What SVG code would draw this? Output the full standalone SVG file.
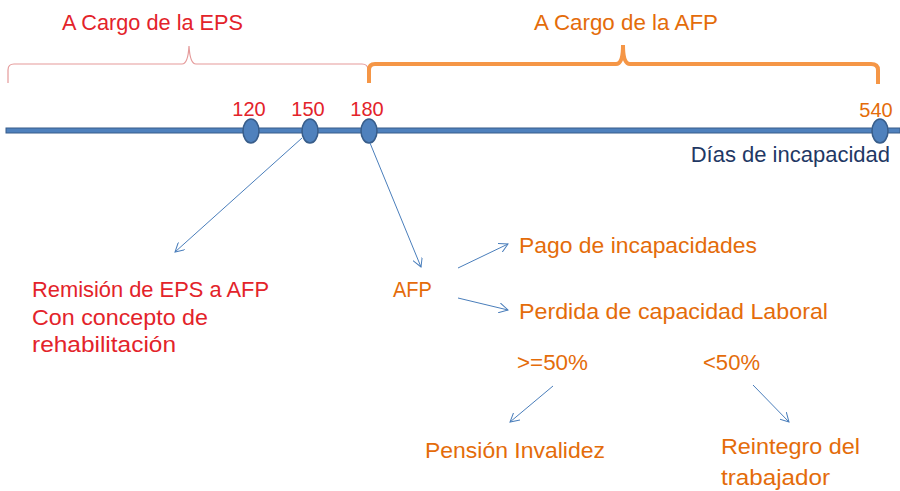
<svg xmlns="http://www.w3.org/2000/svg" width="900" height="491" viewBox="0 0 900 491">
<style>
text{font-family:"Liberation Sans",Arial,sans-serif;font-size:22px}
.red{fill:#e3232a}
.org{fill:#e46c0a}
.navy{fill:#1f3864}
.num{font-size:20px}
.conn{stroke:#4a7ebb;stroke-width:1;fill:none}
.dot{fill:#4f81bd;stroke:#385d8a;stroke-width:1.5}
</style>
<defs>
<marker id="arr" viewBox="0 0 10 10" refX="9" refY="5" markerWidth="10" markerHeight="10" markerUnits="userSpaceOnUse" orient="auto">
<path d="M0,0 L9,5 L0,10" fill="none" stroke="#4a7ebb" stroke-width="1"/>
</marker>
</defs>
<rect width="900" height="491" fill="#ffffff"/>
<g id="brackets">
<path d="M8,83 L8,70 Q8,64 14,64 L182,64 Q188,64 189,46 Q190,64 196,64 L362,64 Q368,64 368,70" fill="none" stroke="#e59a9a" stroke-width="1.2"/>
<path d="M369,83 L369,70 Q369,64 375,64 L616,64 Q623,64 623,45 Q623,64 630,64 L871,64 Q878,64 878,70 L878,84" fill="none" stroke="#f59646" stroke-width="4"/>
</g>
<g id="titles">
<text class="red" x="62" y="30" textLength="181" lengthAdjust="spacingAndGlyphs">A Cargo de la EPS</text>
<text class="org" x="534" y="30" textLength="184" lengthAdjust="spacingAndGlyphs">A Cargo de la AFP</text>
</g>
<g id="timeline">
<rect x="6" y="128" width="894" height="5" fill="#4f81bd" stroke="#385d8a" stroke-width="1"/>
<text class="navy" x="890" y="162" font-size="21" text-anchor="end">Días de incapacidad</text>
</g>
<g id="d120"><ellipse class="dot" cx="251" cy="131" rx="8" ry="12"/><text class="red num" x="249" y="116" text-anchor="middle">120</text></g>
<g id="d150"><ellipse class="dot" cx="310" cy="131" rx="8" ry="12"/><text class="red num" x="308" y="116" text-anchor="middle">150</text></g>
<g id="d180"><ellipse class="dot" cx="369" cy="131" rx="8" ry="12"/><text class="red num" x="367" y="116" text-anchor="middle">180</text></g>
<g id="d540"><ellipse class="dot" cx="880" cy="131" rx="8" ry="12"/><text class="org num" x="876" y="117" text-anchor="middle">540</text></g>
<g id="connectors">
<line class="conn" x1="302" y1="138" x2="175" y2="252" marker-end="url(#arr)"/>
<line class="conn" x1="370" y1="143" x2="421" y2="267" marker-end="url(#arr)"/>
<line class="conn" x1="458" y1="268" x2="508" y2="244" marker-end="url(#arr)"/>
<line class="conn" x1="458" y1="298" x2="508" y2="310" marker-end="url(#arr)"/>
<line class="conn" x1="553" y1="386" x2="510" y2="422" marker-end="url(#arr)"/>
<line class="conn" x1="753" y1="385" x2="789" y2="422" marker-end="url(#arr)"/>
</g>
<g id="remision">
<text class="red" x="32" y="297" textLength="237" lengthAdjust="spacingAndGlyphs">Remisión de EPS a AFP</text>
<text class="red" x="32" y="325" textLength="176" lengthAdjust="spacingAndGlyphs">Con concepto de</text>
<text class="red" x="32" y="352" textLength="144" lengthAdjust="spacingAndGlyphs">rehabilitación</text>
</g>
<g id="afp"><text class="org" x="393" y="297" textLength="39" lengthAdjust="spacingAndGlyphs">AFP</text></g>
<g id="pago"><text class="org" x="519" y="253" textLength="238" lengthAdjust="spacingAndGlyphs">Pago de incapacidades</text></g>
<g id="perdida"><text class="org" x="519" y="319" textLength="309" lengthAdjust="spacingAndGlyphs">Perdida de capacidad Laboral</text></g>
<g id="ge50"><text class="org" x="517" y="370" textLength="71" lengthAdjust="spacingAndGlyphs">&gt;=50%</text></g>
<g id="lt50"><text class="org" x="703" y="370" textLength="57" lengthAdjust="spacingAndGlyphs">&lt;50%</text></g>
<g id="pension"><text class="org" x="425" y="458" textLength="180" lengthAdjust="spacingAndGlyphs">Pensión Invalidez</text></g>
<g id="reintegro">
<text class="org" x="721" y="454" textLength="139" lengthAdjust="spacingAndGlyphs">Reintegro del</text>
<text class="org" x="721" y="485" textLength="109" lengthAdjust="spacingAndGlyphs">trabajador</text>
</g>
</svg>
